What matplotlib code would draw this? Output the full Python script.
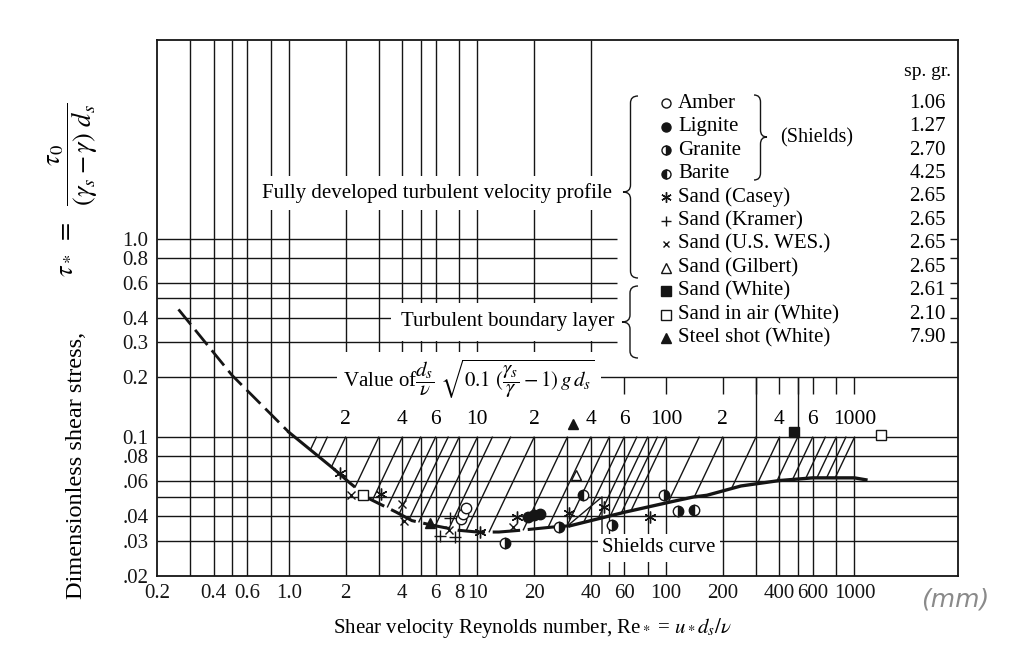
import numpy as np
import matplotlib.pyplot as plt
from matplotlib.path import Path
from matplotlib.patches import PathPatch

plt.rcParams['font.family'] = ['Liberation Serif', 'DejaVu Serif']
plt.rcParams['mathtext.fontset'] = 'stix'

# Shields curve (Re*, tau*)
shields_re = np.array([0.26, 0.5, 1.0, 1.74, 2.1, 2.67, 3.7, 4.5, 5.8, 7.9, 10, 13, 17,
                       26, 31, 61, 109, 140, 165, 250, 400, 600, 1000, 1150])
shields_tau = np.array([0.44, 0.205, 0.106, 0.069, 0.059, 0.049, 0.042, 0.038, 0.036, 0.034,
                        0.0333, 0.0333, 0.034, 0.0354, 0.0358, 0.042, 0.0475, 0.050, 0.051,
                        0.0568, 0.0605, 0.0624, 0.0624, 0.061])

# experimental points
amber_re, amber_tau = [8.2, 8.4, 8.7], [0.0387, 0.041, 0.044]
lignite_re, lignite_tau = [18.5, 20, 21.5], [0.0395, 0.0405, 0.041]
granite_re, granite_tau = [14, 27, 52, 98, 116], [0.0293, 0.0354, 0.0362, 0.051, 0.0427]
barite_re, barite_tau = [36.4, 141], [0.051, 0.043]
casey_re = [1.87, 3.1, 10.3, 16.3, 30.5, 47, 82]
casey_tau = [0.066, 0.052, 0.0333, 0.0398, 0.0413, 0.0443, 0.0398]
kramer_re, kramer_tau = [6.3, 7.2, 7.6], [0.0318, 0.039, 0.0314]
wes_re, wes_tau = [2.15, 3.97, 4.07, 7.1, 15.5], [0.051, 0.046, 0.038, 0.0342, 0.0355]
gilbert_re, gilbert_tau = [33.5], [0.0646]
white_re, white_tau = [478], [0.106]
air_re, air_tau = [2.46, 1380], [0.051, 0.103]
steel_re, steel_tau = [5.6, 32], [0.037, 0.116]

legend_labels = ['Amber', 'Lignite', 'Granite', 'Barite', 'Sand (Casey)', 'Sand (Kramer)',
                 'Sand (U.S. WES.)', 'Sand (Gilbert)', 'Sand (White)', 'Sand in air (White)',
                 'Steel shot (White)']
spec_gravity = ['1.06', '1.27', '2.70', '4.25', '2.65', '2.65', '2.65', '2.65', '2.61',
                '2.10', '7.90']

# values of (d/nu) sqrt(0.1 (gs/g - 1) g d) -> iso-grain lines
value_lines = [1.4, 1.6, 2, 3, 4, 5, 6, 7, 8, 10, 12, 15, 20, 30, 40, 50, 60, 70, 80, 90,
               100, 150, 200, 300, 400, 500, 600, 700, 800, 900, 1000]
value_ticks = [2, 3, 4, 6, 8, 10, 20, 40, 60, 100, 200, 300, 400, 500, 600, 800, 1000]
value_label_pos = [2, 4, 6, 10, 20, 40, 60, 100, 200, 400, 600, 1000]
value_label_txt = ['2', '4', '6', '10', '2', '4', '6', '100', '2', '4', '6', '1000']

xticks = [0.2, 0.4, 0.6, 1, 2, 4, 6, 8, 10, 20, 40, 60, 100, 200, 400, 600, 1000]
xtick_labels = ['0.2', '0.4', '0.6', '1.0', '2', '4', '6', '8', '10', '20', '40', '60',
                '100', '200', '400', '600', '1000']
yticks = [0.02, 0.03, 0.04, 0.06, 0.08, 0.1, 0.2, 0.3, 0.4, 0.6, 0.8, 1.0]
ytick_labels = ['.02', '.03', '.04', '.06', '.08', '0.1', '0.2', '0.3', '0.4', '0.6', '0.8', '1.0']

grid_x_low = [0.3, 0.4, 0.5, 0.6, 0.8, 1, 2, 3, 4, 5, 6, 8, 10, 20, 30, 40, 50, 60, 80,
              100, 200, 300, 400, 500, 600, 800, 1000]
grid_x_left = [0.3, 0.4, 0.5, 0.6, 0.8, 1]
grid_x_up = [2, 3, 4, 5, 6, 8, 10, 20, 40]
grid_x_band = [300, 500]
grid_y_low = [0.03, 0.04, 0.05, 0.06, 0.08, 0.1, 0.2]
grid_y_up = [0.3, 0.4, 0.5, 0.6, 0.8, 1.0]

W, H = 1024, 650
XMIN, XMAX, YMIN, YMAX = 0.2, 3540, 0.02, 10
INK = '#151515'


def fx(px):
    return px / W


def fy(py):
    return 1 - py / H


def brace(fig, x_end, x_tip, y_top, y_bot, y_mid, lw=1.0):
    xm = (x_end + x_tip) / 2
    r = 7
    pts = [(x_end, y_top), (xm, y_top), (xm, y_top + r), (xm, y_mid - r), (xm, y_mid),
           (x_tip, y_mid), (xm, y_mid), (xm, y_mid + r), (xm, y_bot - r), (xm, y_bot),
           (x_end, y_bot)]
    codes = [Path.MOVETO, Path.CURVE3, Path.CURVE3, Path.LINETO, Path.CURVE3, Path.CURVE3,
             Path.CURVE3, Path.CURVE3, Path.LINETO, Path.CURVE3, Path.CURVE3]
    verts = [(fx(a), fy(b)) for a, b in pts]
    fig.add_artist(PathPatch(Path(verts, codes), transform=fig.transFigure, fill=False,
                             lw=lw, ec=INK))


def curve_tau(re):
    return 10 ** np.interp(np.log10(re), np.log10(shields_re), np.log10(shields_tau))


fig = plt.figure(figsize=(10.24, 6.5), dpi=100)
ax = fig.add_axes([fx(157), 74 / H, 801 / W, 536 / H])
ax.set_xscale('log')
ax.set_yscale('log')
ax.set_xlim(XMIN, XMAX)
ax.set_ylim(YMIN, YMAX)

# grid
glw = 1.0
ax.vlines(grid_x_low, YMIN, 0.1, color=INK, lw=glw, zorder=1)
ax.vlines(grid_x_left, 0.1, YMAX, color=INK, lw=glw, zorder=1)
ax.vlines(grid_x_up, 0.2, YMAX, color=INK, lw=glw, zorder=1)
ax.vlines(grid_x_band, 0.1, 0.2, color=INK, lw=glw, zorder=1)
ax.hlines(grid_y_low, XMIN, XMAX, color=INK, lw=glw, zorder=1)
ax.hlines(grid_y_up, XMIN, 55, color=INK, lw=glw, zorder=1)
ax.hlines(grid_y_up, 3200, XMAX, color=INK, lw=glw, zorder=1)
ax.vlines(value_ticks, 0.165, 0.2, color=INK, lw=glw, zorder=1)

# iso-value hatch lines down to the Shields curve
for v in value_lines:
    re = np.logspace(np.log10(v) - 1, np.log10(v), 400)
    tau = re ** 2 / (10 * v ** 2)
    keep = tau >= curve_tau(re)
    ax.plot(re[keep], tau[keep], color=INK, lw=1.0, zorder=2)

for v, t in zip(value_label_pos, value_label_txt):
    ax.text(v, 0.123, t, ha='center', va='center', fontsize=15.5, zorder=5)

# Shields curve
m1 = shields_re <= 1.0
m2 = (shields_re >= 1.0) & (shields_re <= 1.74)
m3 = (shields_re >= 1.74) & (shields_re <= 31)
m4 = shields_re >= 31
ax.plot(shields_re[m1], shields_tau[m1], color=INK, lw=2.0, dashes=(7, 2.5), zorder=3)
ax.plot(shields_re[m2], shields_tau[m2], color=INK, lw=2.2, zorder=3)
ax.plot(shields_re[m3], shields_tau[m3], color=INK, lw=2.2, dashes=(9, 2.5), zorder=3)
ax.plot(shields_re[m4], shields_tau[m4], color=INK, lw=2.4, zorder=3)

styles = [
    dict(marker='o', mfc='white', mec=INK, ms=7.5, mew=1.0),
    dict(marker='o', mfc=INK, mec=INK, ms=7.5),
    dict(marker='o', fillstyle='right', mfc=INK, mfcalt='white', mec=INK, ms=7.5, mew=1.0),
    dict(marker='o', fillstyle='left', mfc=INK, mfcalt='white', mec=INK, ms=7.5, mew=1.0),
    dict(marker=(6, 2, 0), mec=INK, ms=8.5, mew=1.0),
    dict(marker='+', mec=INK, ms=8, mew=1.0),
    dict(marker='x', mec=INK, ms=6, mew=1.0),
    dict(marker='^', mfc='white', mec=INK, ms=7.5, mew=1.0),
    dict(marker='s', mfc=INK, mec=INK, ms=7.5),
    dict(marker='s', mfc='white', mec=INK, ms=7.5, mew=1.0),
    dict(marker='^', mfc=INK, mec=INK, ms=7.5),
]
series = [(amber_re, amber_tau), (lignite_re, lignite_tau), (granite_re, granite_tau),
          (barite_re, barite_tau), (casey_re, casey_tau), (kramer_re, kramer_tau),
          (wes_re, wes_tau), (gilbert_re, gilbert_tau), (white_re, white_tau),
          (air_re, air_tau), (steel_re, steel_tau)]
for (rx, ty), st in zip(series, styles):
    ax.plot(rx, ty, ls='none', zorder=4, clip_on=False, **st)

# axes, ticks
for s in ax.spines.values():
    s.set_color(INK)
    s.set_linewidth(1.3)
ax.set_xticks(xticks)
ax.set_xticklabels(xtick_labels)
ax.set_yticks(yticks)
ax.set_yticklabels(ytick_labels)
ax.minorticks_off()
ax.tick_params(length=0, labelsize=15, pad=6, colors=INK)

# region annotations
ax.text(0.568, 0.7146, 'Fully developed turbulent velocity profile', transform=ax.transAxes,
        ha='right', va='center', fontsize=15,
        bbox=dict(boxstyle='square,pad=0.35', fc='white', ec='none'), zorder=5)
ax.text(0.571, 0.474, 'Turbulent boundary layer', transform=ax.transAxes,
        ha='right', va='center', fontsize=15,
        bbox=dict(boxstyle='square,pad=0.45', fc='white', ec='none'), zorder=5)
ax.text(0.232, 0.366,
        r'Value of$\dfrac{d_s}{\nu}\ \sqrt{0.1\ (\dfrac{\gamma_s}{\gamma} - 1)\,g\,d_s}$',
        transform=ax.transAxes, ha='left', va='center', fontsize=15,
        bbox=dict(boxstyle='square,pad=0.3', fc='white', ec='none'), zorder=5)
ax.annotate('Shields curve', xy=(30, 0.0357), xytext=(fx(602), fy(548)),
            textcoords='figure fraction', ha='left', va='center', fontsize=15,
            bbox=dict(boxstyle='square,pad=0.2', fc='white', ec='none'), zorder=5,
            arrowprops=dict(arrowstyle='-', lw=1.0, color=INK, relpos=(0, 0.9),
                            shrinkA=0, shrinkB=2,
                            connectionstyle='angle,angleA=90,angleB=40,rad=0'))

# legend
fig.text(fx(928), fy(72), 'sp. gr.', ha='center', va='center', fontsize=14)
for i, (lab, sg, st) in enumerate(zip(legend_labels, spec_gravity, styles)):
    yy = fy(103 + 23.5 * i)
    leg_st = dict(st)
    leg_st['ms'] = st['ms'] - 1.0
    ax.plot([fx(666)], [yy], transform=fig.transFigure, ls='none', clip_on=False,
            zorder=6, **leg_st)
    fig.text(fx(678), yy, lab, ha='left', va='center', fontsize=15)
    fig.text(fx(946), yy, sg, ha='right', va='center', fontsize=15)
fig.text(fx(780), fy(138), '(Shields)', ha='left', va='center', fontsize=14.5)
brace(fig, 638, 623, 96, 278, 192)
brace(fig, 638, 622, 286, 358, 322)
brace(fig, 754, 767, 95, 180, 137)

# axis labels
fig.text(fx(77), fy(465), 'Dimensionless shear stress,', rotation=90,
         ha='center', va='center', fontsize=17.5)
fig.text(fx(73), fy(190), r'$\tau_*\ =\ \ \dfrac{\tau_0}{(\gamma_s - \gamma)\ d_s}$',
         rotation=90, ha='center', va='center', fontsize=19)
fig.text(fx(532), fy(628), r'Shear velocity Reynolds number, Re$_*$ = $u_*d_s/\nu$',
         ha='center', va='center', fontsize=15)
fig.text(fx(955), fy(600), '(mm)', ha='center', va='center', fontsize=18, color='#8a8a8a',
         family='DejaVu Sans', style='italic', weight='light')

fig.savefig('out.png', dpi=100)
